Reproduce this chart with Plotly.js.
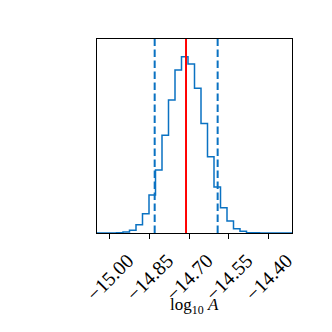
<!DOCTYPE html>
<html><head><meta charset="utf-8">
<script src="https://cdn.plot.ly/plotly-3.0.1.min.js"></script>
<style>html,body{margin:0;padding:0;background:#fff}#chart{width:332px;height:332px}</style>
</head><body><div id="chart"></div>
<script>
// Histogram of log10 A: 30 bins spanning the axis range
const binStart = -15.048;
const binEnd = -14.311;
const counts = [0, 0, 0, 1, 3, 8, 25, 58, 114, 189, 294, 400, 490, 530, 508, 435, 329, 229, 138, 76, 36, 13, 5, 1, 0.5, 0, 0, 0, 0, 0];
const truthValue = [-14.7115];
const quantiles = [-14.830, -14.592];
const tickVals = [-15.00, -14.85, -14.70, -14.55, -14.40];
const tickText = ['\u221215.00', '\u221214.85', '\u221214.70', '\u221214.55', '\u221214.40'];
const axisTitle = 'log<sub>10</sub> <i>A</i>';

const nb = counts.length;
const bw = (binEnd - binStart) / nb;
const xs = [], ys = [];
for (let i = 0; i < nb; i++) { xs.push(binStart + i * bw); ys.push(counts[i]); }
xs.push(binEnd); ys.push(counts[nb - 1]);
const ymax = Math.max(...counts) * 1.1;

const blue = '#0a72c2';
const shapes = [];
quantiles.forEach(q => shapes.push({type:'line', xref:'x', yref:'paper', x0:q, x1:q, y0:0, y1:1,
  line:{color:blue, width:2, dash:'7.5px,3.5px'}}));
truthValue.forEach(t => shapes.push({type:'line', xref:'x', yref:'paper', x0:t, x1:t, y0:0, y1:1,
  line:{color:'#ff0000', width:2}}));

const data = [{type:'scatter', mode:'lines', x:xs, y:ys, line:{shape:'hv', color:blue, width:1.5},
  hoverinfo:'skip', showlegend:false, cliponaxis:true}];

const layout = {
  width:332, height:332, margin:{l:97, r:40, t:39, b:99},
  paper_bgcolor:'#fff', plot_bgcolor:'#fff', showlegend:false,
  font:{family:'Liberation Serif, serif', color:'#000'},
  xaxis:{range:[binStart, binEnd], tickvals:tickVals, ticktext:tickText, tickangle:-45,
    ticks:'outside', ticklen:5, tickwidth:1.1, tickcolor:'#000', showgrid:false, zeroline:false,
    showline:true, linecolor:'#000', linewidth:1.1, mirror:true,
    tickfont:{family:'Liberation Serif, serif', size:20, color:'#000'}, ticklabelshift:18, ticklabelstandoff:2},
  yaxis:{range:[0, ymax], showticklabels:false, ticks:'', showgrid:false, zeroline:false,
    showline:true, linecolor:'#000', linewidth:1.1, mirror:true},
  annotations:[{text:axisTitle, xref:'paper', yref:'paper', x:0.5, y:-0.375, xanchor:'center', yanchor:'middle',
    showarrow:false, font:{family:'Liberation Serif, serif', size:17, color:'#000'}}],
  shapes:shapes
};
Plotly.newPlot('chart', data, layout, {staticPlot:true, displayModeBar:false});
</script></body></html>
